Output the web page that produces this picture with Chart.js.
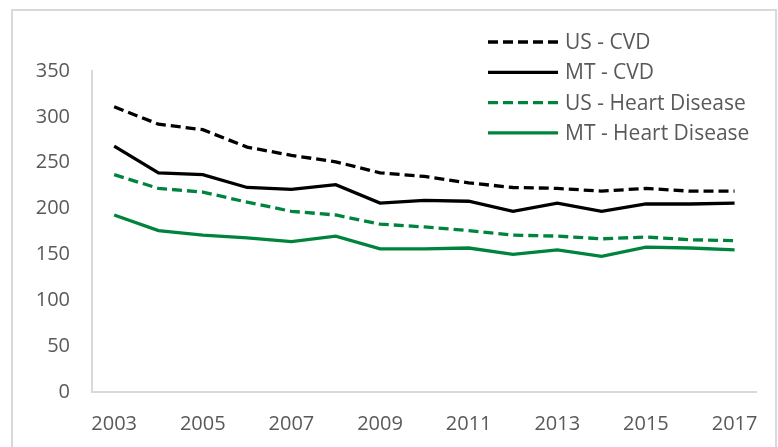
<!DOCTYPE html>
<html>
<head>
<meta charset="utf-8">
<script src="https://cdn.jsdelivr.net/npm/chart.js@4.4.1/dist/chart.umd.min.js"></script>
<style>
  html, body { margin: 0; padding: 0; background: #fff; }
  #wrap { position: relative; width: 778px; height: 447px; overflow: hidden; }
  #frame { position: absolute; left: 11px; top: 9px; width: 766px; height: 470px;
           border: 2px solid #d9d9d9; box-sizing: border-box; }
  #line-chart { position: absolute; left: 0; top: 0; }
</style>
</head>
<body>
<div id="wrap">
  <div id="frame"></div>
  <canvas id="line-chart" width="778" height="447"></canvas>
</div>
<script>
// data
var years = ['2003', '2004', '2005', '2006', '2007', '2008', '2009', '2010',
             '2011', '2012', '2013', '2014', '2015', '2016', '2017'];
var usCvd = [311, 292, 286, 267, 258, 251, 239, 235, 228, 223, 222, 219, 222, 219, 219];
var mtCvd = [268, 239, 237, 223, 221, 226, 206, 209, 208, 197, 206, 197, 205, 205, 206];
var usHeart = [237, 222, 218, 207, 197, 193, 183, 180, 176, 171, 170, 167, 169, 166, 165];
var mtHeart = [193, 176, 171, 168, 164, 170, 156, 156, 157, 150, 155, 148, 158, 157, 155];
var yTicks = [0, 50, 100, 150, 200, 250, 300, 350];

var green = '#00843d';
var grey = '#595959';
var font = { family: "'Open Sans', sans-serif", size: 20 };

// legend drawn inside the plot, one row per series
var sideLegend = {
  id: 'sideLegend',
  afterDraw: function(chart) {
    var ctx = chart.ctx;
    ctx.save();
    ctx.font = '21px "Open Sans", sans-serif';
    ctx.textBaseline = 'middle';
    chart.data.datasets.forEach(function(ds, i) {
      var y = 42 + i * 30.3;
      ctx.beginPath();
      ctx.setLineDash(ds.borderDash || []);
      ctx.lineWidth = ds.borderWidth;
      ctx.strokeStyle = ds.borderColor;
      ctx.moveTo(488, y);
      ctx.lineTo(558, y);
      ctx.stroke();
      ctx.setLineDash([]);
      ctx.fillStyle = grey;
      ctx.fillText(ds.label, 565, y + 1);
    });
    ctx.restore();
  }
};

new Chart(document.getElementById("line-chart"), {
  type : 'line',
  data : {
    labels : years,
    datasets : [
        { label : "US - CVD", data : usCvd, borderColor : "#000", borderDash : [10, 5], borderWidth : 3.3, pointRadius : 0, fill : false },
        { label : "MT - CVD", data : mtCvd, borderColor : "#000", borderWidth : 3.3, pointRadius : 0, fill : false },
        { label : "US - Heart Disease", data : usHeart, borderColor : green, borderDash : [10, 5], borderWidth : 3.3, pointRadius : 0, fill : false },
        { label : "MT - Heart Disease", data : mtHeart, borderColor : green, borderWidth : 3.3, pointRadius : 0, fill : false }
    ]
  },
  plugins : [sideLegend],
  options : {
    responsive : false,
    animation : false,
    layout : { padding : { left : 0, top : 71, right : 17, bottom : 0 } },
    plugins : {
      legend : { display : false },
      tooltip : { enabled : false }
    },
    scales : {
      x : {
        offset : true,
        grid : { display : false, drawTicks : false },
        border : { color : '#d9d9d9', width : 2 },
        ticks : {
          color : grey, font : font, padding : 20, autoSkip : false, maxRotation : 0,
          callback : function(v, i) { return i % 2 === 0 ? years[i] : ''; }
        },
        afterFit : function(s) { s.height = 55; }
      },
      y : {
        min : 0, max : 350,
        grid : { display : false, drawTicks : false },
        border : { color : '#d9d9d9', width : 2 },
        afterBuildTicks : function(s) { s.ticks = yTicks.map(function(v) { return { value : v }; }); },
        ticks : { color : grey, font : font, padding : 22 },
        afterFit : function(s) { s.width = 92; }
      }
    }
  }
});
</script>
</body>
</html>
